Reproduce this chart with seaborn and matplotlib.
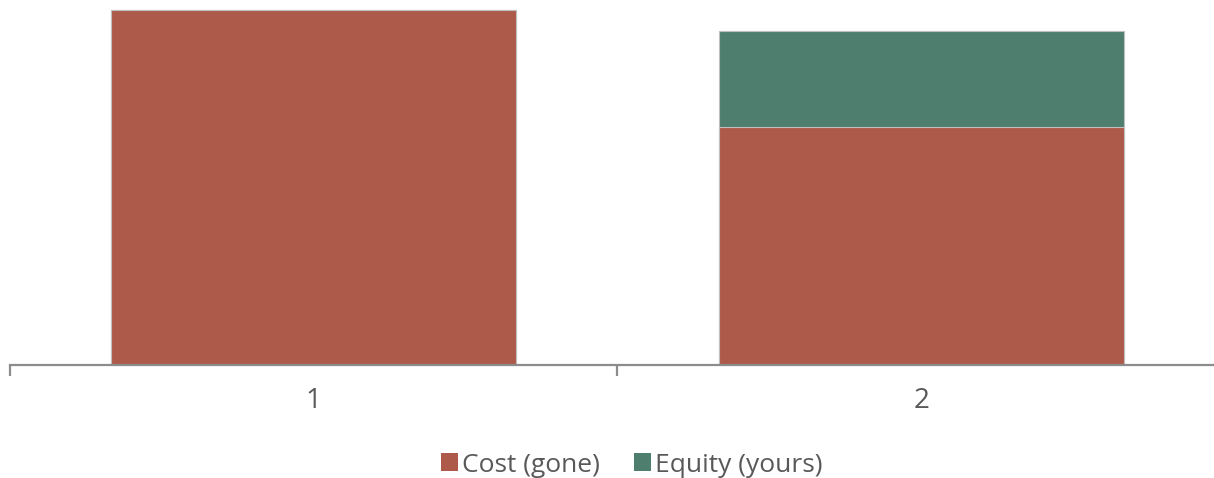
import matplotlib
matplotlib.use("Agg")
import matplotlib.pyplot as plt
from matplotlib.patches import Patch
import seaborn as sns
import pandas as pd

# Data
categories = ["1", "2"]
cost = [100, 67]
equity = [0, 27]

series_names = ["Cost (gone)", "Equity (yours)"]
colors = {"Cost (gone)": "#AE5A4B", "Equity (yours)": "#4E7E6D"}
text_color = "#595959"
axis_color = "#8C8C8C"

totals = [c + e for c, e in zip(cost, equity)]
df = pd.DataFrame({"category": categories, "cost": cost, "total": totals})

sns.set_theme(style="white")
plt.rcParams["font.family"] = ["Open Sans", "DejaVu Sans"]

W, H = 1214, 478
fig = plt.figure(figsize=(W / 100, H / 100), dpi=100)
# plot area runs slightly past the right edge of the canvas
ax = fig.add_axes([9.5 / W, 1 - 365 / H, (1225.5 - 9.5) / W, 365 / H])

# Stacked bars: total first (equity on top), then cost in front
sns.barplot(data=df, x="category", y="total", color=colors["Equity (yours)"],
            width=0.666, saturation=1, edgecolor="#BFBFBF", linewidth=0.8, ax=ax)
sns.barplot(data=df, x="category", y="cost", color=colors["Cost (gone)"],
            width=0.666, saturation=1, edgecolor="#BFBFBF", linewidth=0.8, ax=ax)

ax.set_xlim(-0.5, 1.5)
ax.set_ylim(0, 100 * 365 / 355)
ax.set_xlabel("")
ax.set_ylabel("")
ax.set_yticks([])

for side in ["top", "right", "left"]:
    ax.spines[side].set_visible(False)
ax.spines["bottom"].set_color(axis_color)
ax.spines["bottom"].set_linewidth(1.6)

ax.tick_params(axis="x", which="both", bottom=True)
ax.tick_params(axis="x", which="major", length=0, labelsize=20,
               labelcolor=text_color, pad=16)
ax.set_xticks([-0.5, 0.5, 1.5], minor=True)
ax.tick_params(axis="x", which="minor", length=8, width=1.6, color=axis_color)

handles = [Patch(facecolor=colors[n], edgecolor="none", label=n) for n in series_names]
fig.legend(handles=handles, loc="center", bbox_to_anchor=(632 / W, 1 - 465 / H),
           ncol=2, frameon=False, fontsize=19, labelcolor=text_color,
           handlelength=0.65, handleheight=0.65, handletextpad=0.15, columnspacing=1.3)

fig.savefig("out.png", dpi=100)
